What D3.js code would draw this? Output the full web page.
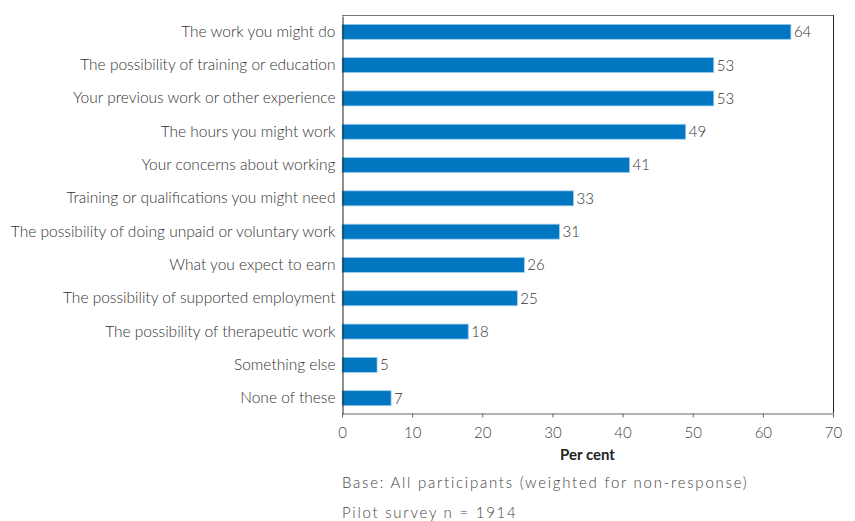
<!DOCTYPE html>
<html>
<head>
<meta charset="utf-8">
<script src="https://cdn.jsdelivr.net/npm/d3@7"></script>
<style>
  body { margin: 0; background: #fff; }
  svg { display: block; font-family: Lato, "Open Sans", sans-serif; }
</style>
</head>
<body>
<svg id="chart" width="855" height="521"></svg>
<script>
// Survey responses: what participants would like to discuss (per cent)
const categories = [
  "The work you might do",
  "The possibility of training or education",
  "Your previous work or other experience",
  "The hours you might work",
  "Your concerns about working",
  "Training or qualifications you might need",
  "The possibility of doing unpaid or voluntary work",
  "What you expect to earn",
  "The possibility of supported employment",
  "The possibility of therapeutic work",
  "Something else",
  "None of these"
];
const values = [64, 53, 53, 49, 41, 33, 31, 26, 25, 18, 5, 7];
const xTicks = [0, 10, 20, 30, 40, 50, 60, 70];
const xTitle = "Per cent";
const notes = [
  "Base: All participants (weighted for non-response)",
  "Pilot survey n = 1914"
];

const svg = d3.select("#chart");
const plot = { left: 342, right: 833, top: 15, bottom: 413 };

const x = d3.scaleLinear().domain([0, 70]).range([plot.left, plot.right]);
const y = d3.scaleBand().domain(categories)
  .range([plot.top + 1, plot.bottom + 1]).paddingInner(0.55).paddingOuter(0.25);

// frame: top and right edges
svg.append("line").attr("x1", plot.left).attr("x2", plot.right)
  .attr("y1", plot.top + 0.5).attr("y2", plot.top + 0.5)
  .attr("stroke", "#777").attr("stroke-width", 1);
svg.append("line").attr("x1", plot.right + 0.5).attr("x2", plot.right + 0.5)
  .attr("y1", plot.top).attr("y2", plot.bottom)
  .attr("stroke", "#222").attr("stroke-width", 1);

// bars
svg.append("g").selectAll("rect").data(values).join("rect")
  .attr("x", x(0))
  .attr("y", (d, i) => y(categories[i]))
  .attr("width", d => x(d) - x(0))
  .attr("height", y.bandwidth())
  .attr("fill", "#0077c0")
  .attr("stroke", "#9fcdee")
  .attr("stroke-width", 0.8);

// value labels
svg.append("g").selectAll("text").data(values).join("text")
  .attr("x", d => x(d) + 3)
  .attr("y", (d, i) => y(categories[i]) + y.bandwidth() / 2)
  .attr("dy", "0.36em")
  .attr("font-size", 15)
  .attr("font-weight", 300)
  .attr("fill", "#333")
  .text(d => d);

// category axis
const yAxis = svg.append("g")
  .attr("transform", `translate(${plot.left + 0.5},0)`)
  .call(d3.axisLeft(y).tickSize(0).tickPadding(7));
yAxis.select(".domain").attr("stroke", "#222");
yAxis.selectAll("text").attr("font-size", 15.5).attr("font-weight", 300)
  .attr("fill", "#333").attr("font-family", "Lato, sans-serif");

// value axis
const xAxis = svg.append("g")
  .attr("transform", `translate(0,${plot.bottom + 0.5})`)
  .call(d3.axisBottom(x).tickValues(xTicks).tickSize(4).tickSizeOuter(0).tickPadding(10));
xAxis.select(".domain").attr("stroke", "#666");
xAxis.selectAll(".tick line").attr("stroke", "#666");
xAxis.selectAll("text").attr("font-size", 15).attr("font-weight", 300)
  .attr("fill", "#444").attr("font-family", "Lato, sans-serif");

svg.append("text")
  .attr("x", (plot.left + plot.right) / 2)
  .attr("y", 460)
  .attr("text-anchor", "middle")
  .attr("font-size", 15)
  .attr("font-weight", 700)
  .attr("fill", "#222")
  .text(xTitle);

svg.append("g").selectAll("text").data(notes).join("text")
  .attr("x", plot.left)
  .attr("y", (d, i) => 488 + i * 30)
  .attr("font-size", 15)
  .attr("font-weight", 300)
  .attr("letter-spacing", "1.75px")
  .attr("fill", "#444")
  .text(d => d);
</script>
</body>
</html>
